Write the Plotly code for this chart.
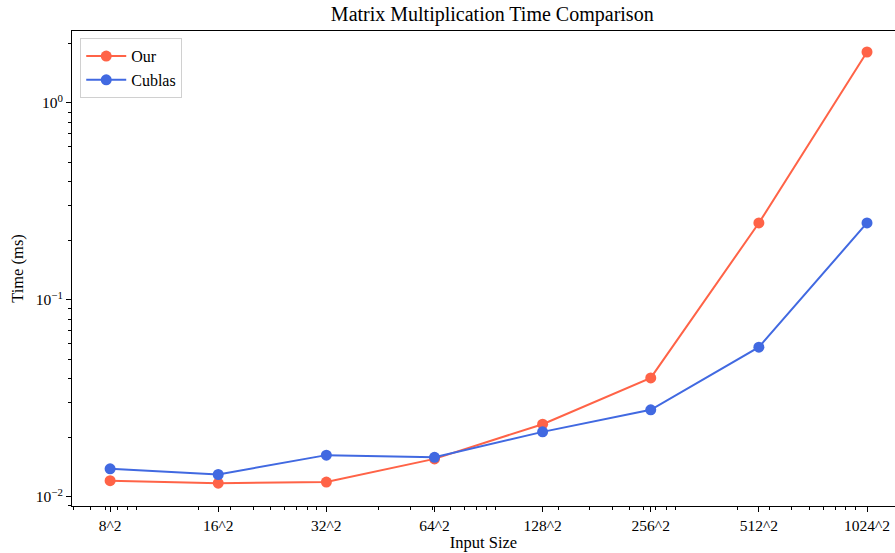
import plotly.graph_objects as go

sizes = [8, 16, 32, 64, 128, 256, 512, 1024]
x_labels = ["8^2", "16^2", "32^2", "64^2", "128^2", "256^2", "512^2", "1024^2"]
our_times = [0.0121, 0.01174, 0.0119, 0.0156, 0.0234, 0.0402, 0.246, 1.815]
cublas_times = [0.0139, 0.0130, 0.0163, 0.0159, 0.0214, 0.0277, 0.0576, 0.246]
y_ticks = [0.01, 0.1, 1]
y_labels = ["10<sup>\u22122</sup>", "10<sup>\u22121</sup>", "10<sup>0</sup>"]

x_vals = [s * s for s in sizes]

font_family = "Liberation Serif"

fig = go.Figure()
fig.add_trace(go.Scatter(x=x_vals, y=our_times, mode="lines+markers", name="Our",
                         line=dict(color="#FF6347", width=2),
                         marker=dict(color="#FF6347", size=11)))
fig.add_trace(go.Scatter(x=x_vals, y=cublas_times, mode="lines+markers", name="Cublas",
                         line=dict(color="#4169E1", width=2),
                         marker=dict(color="#4169E1", size=11)))

x_minor = [m * 10 ** k for k in range(1, 7) for m in range(2, 10)]
y_minor = [m * 10 ** k for k in range(-3, 1) for m in range(2, 10)]

fig.update_layout(
    width=895, height=553,
    margin=dict(l=72, r=0, t=31, b=47),
    paper_bgcolor="white", plot_bgcolor="white",
    font=dict(family=font_family, size=15.5, color="black"),
    title=dict(text="Matrix Multiplication Time Comparison", x=0.55, xanchor="center",
               y=0.974, yanchor="middle", font=dict(size=20, family=font_family)),
    showlegend=True,
    legend=dict(x=0.01, y=0.985, xanchor="left", yanchor="top",
                bordercolor="#d0d0d0", borderwidth=1, bgcolor="rgba(255,255,255,0.8)",
                font=dict(size=16, family=font_family), tracegroupgap=0,
                itemwidth=40),
    xaxis=dict(type="log", range=[1.594, 6.1765], automargin=False,
               tickmode="array", tickvals=x_vals, ticktext=x_labels,
               showgrid=False, zeroline=False,
               showline=True, linecolor="black", linewidth=1, mirror=True,
               ticks="outside", ticklen=5, tickcolor="black",
               tickfont=dict(size=15.5),
               minor=dict(tickmode="array", tickvals=x_minor, ticks="outside",
                          ticklen=3, tickcolor="black", showgrid=False),
               title=dict(text="Input Size", standoff=3, font=dict(size=16.5))),
    yaxis=dict(type="log", range=[-2.046, 0.3655], automargin=False,
               tickmode="array", tickvals=y_ticks, ticktext=y_labels,
               showgrid=False, zeroline=False,
               showline=True, linecolor="black", linewidth=1, mirror=False,
               ticks="outside", ticklen=5, tickcolor="black",
               tickfont=dict(size=15.5),
               minor=dict(tickmode="array", tickvals=y_minor, ticks="outside",
                          ticklen=3, tickcolor="black", showgrid=False),
               title=dict(text="Time (ms)", standoff=8, font=dict(size=16.5))),
)

fig.write_html("out.html", config={"displayModeBar": False},
               post_script="document.body.style.margin='0';document.body.style.overflow='hidden';")
